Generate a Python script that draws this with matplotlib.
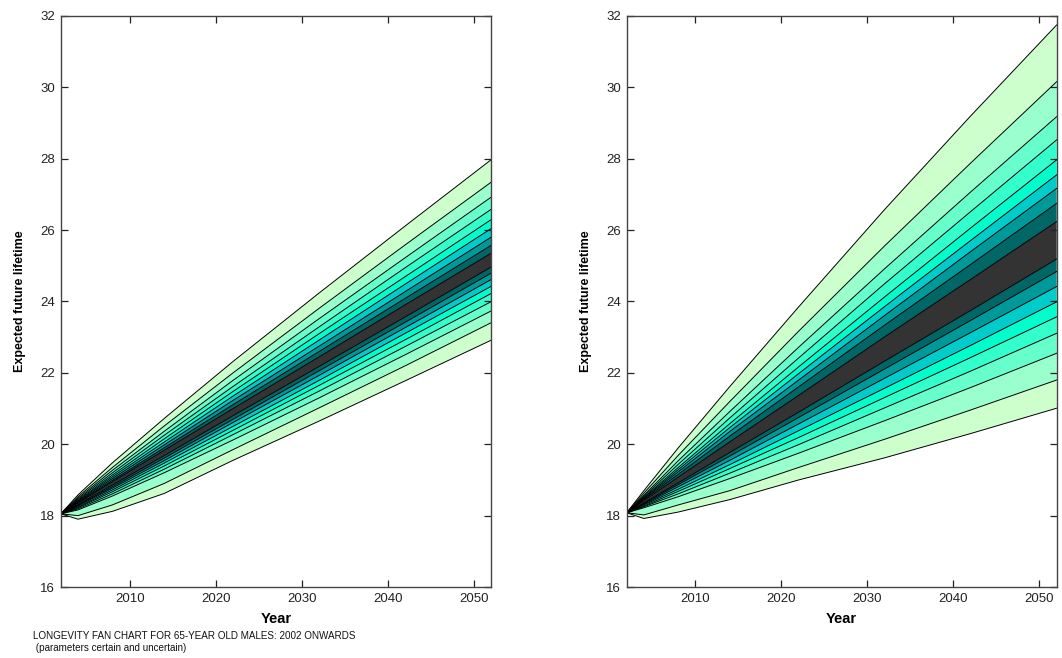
import matplotlib
matplotlib.use("Agg")
import matplotlib.pyplot as plt

plt.rcParams['font.family'] = ['Liberation Sans', 'DejaVu Sans']

# ---- data -------------------------------------------------------------
years = [2002, 2004, 2008, 2014, 2022, 2032, 2042, 2052]
levels = [5, 10, 15, 20, 25, 30, 35, 40, 45, 55, 60, 65, 70, 75, 80, 85, 90, 95]

# left panel: parameters certain (one row per quantile level)
left_q5  = [18.05, 17.90, 18.12, 18.62, 19.55, 20.65, 21.78, 22.92]
left_q10 = [18.05, 18.00, 18.30, 18.90, 19.85, 21.02, 22.20, 23.41]
left_q15 = [18.05, 18.16, 18.55, 19.20, 20.12, 21.30, 22.51, 23.74]
left_q20 = [18.05, 18.19, 18.61, 19.30, 20.27, 21.49, 22.74, 24.00]
left_q25 = [18.05, 18.22, 18.67, 19.39, 20.39, 21.65, 22.93, 24.23]
left_q30 = [18.05, 18.24, 18.72, 19.47, 20.50, 21.79, 23.11, 24.43]
left_q35 = [18.05, 18.27, 18.77, 19.54, 20.61, 21.93, 23.27, 24.62]
left_q40 = [18.05, 18.29, 18.81, 19.61, 20.70, 22.06, 23.42, 24.80]
left_q45 = [18.05, 18.31, 18.86, 19.68, 20.80, 22.18, 23.57, 24.97]
left_q55 = [18.05, 18.35, 18.95, 19.83, 21.00, 22.45, 23.91, 25.36]
left_q60 = [18.05, 18.37, 18.99, 19.90, 21.11, 22.60, 24.09, 25.58]
left_q65 = [18.05, 18.39, 19.04, 19.98, 21.23, 22.75, 24.28, 25.81]
left_q70 = [18.05, 18.41, 19.09, 20.06, 21.35, 22.92, 24.49, 26.05]
left_q75 = [18.05, 18.43, 19.14, 20.15, 21.48, 23.10, 24.70, 26.30]
left_q80 = [18.05, 18.46, 19.20, 20.25, 21.62, 23.29, 24.95, 26.59]
left_q85 = [18.05, 18.49, 19.27, 20.36, 21.79, 23.52, 25.23, 26.93]
left_q90 = [18.05, 18.53, 19.35, 20.51, 22.00, 23.81, 25.59, 27.35]
left_q95 = [18.05, 18.58, 19.48, 20.72, 22.32, 24.24, 26.12, 27.98]

# right panel: parameters uncertain
right_q5  = [18.08, 17.92, 18.10, 18.45, 19.00, 19.62, 20.30, 21.01]
right_q10 = [18.08, 18.02, 18.30, 18.70, 19.35, 20.14, 20.96, 21.80]
right_q15 = [18.08, 18.22, 18.53, 19.04, 19.75, 20.66, 21.59, 22.55]
right_q20 = [18.08, 18.25, 18.61, 19.19, 19.99, 21.02, 22.05, 23.11]
right_q25 = [18.08, 18.27, 18.68, 19.32, 20.19, 21.31, 22.43, 23.57]
right_q30 = [18.08, 18.30, 18.74, 19.43, 20.38, 21.57, 22.77, 23.99]
right_q35 = [18.08, 18.32, 18.81, 19.55, 20.57, 21.85, 23.13, 24.42]
right_q40 = [18.08, 18.34, 18.87, 19.67, 20.75, 22.11, 23.47, 24.84]
right_q45 = [18.08, 18.36, 18.92, 19.77, 20.90, 22.33, 23.75, 25.19]
right_q55 = [18.08, 18.42, 19.08, 20.07, 21.37, 23.01, 24.62, 26.24]
right_q60 = [18.08, 18.45, 19.16, 20.23, 21.61, 23.34, 25.04, 26.75]
right_q65 = [18.08, 18.47, 19.23, 20.36, 21.80, 23.61, 25.40, 27.17]
right_q70 = [18.08, 18.49, 19.29, 20.47, 21.98, 23.86, 25.71, 27.55]
right_q75 = [18.08, 18.51, 19.35, 20.58, 22.17, 24.13, 26.06, 27.97]
right_q80 = [18.08, 18.54, 19.44, 20.74, 22.42, 24.50, 26.52, 28.53]
right_q85 = [18.08, 18.57, 19.54, 20.92, 22.72, 24.92, 27.07, 29.18]
right_q90 = [18.08, 18.63, 19.69, 21.20, 23.17, 25.56, 27.88, 30.16]
right_q95 = [18.08, 18.70, 19.90, 21.62, 23.85, 26.58, 29.20, 31.75]

x_ticks = [2010, 2020, 2030, 2040, 2050]
y_ticks = [16, 18, 20, 22, 24, 26, 28, 30, 32]
x_label = "Year"
y_label = "Expected future lifetime"
caption = "LONGEVITY FAN CHART FOR 65-YEAR OLD MALES: 2002 ONWARDS\n (parameters certain and uncertain)"

# ---- style ------------------------------------------------------------
band_colors = ['#ccffcc', '#99ffcc', '#66ffcc', '#33ffcc',
               '#00ffcc', '#00cccc', '#009999', '#006666']
center_color = '#333333'
spine_color = '#444444'

left_lines = [left_q5, left_q10, left_q15, left_q20, left_q25, left_q30, left_q35,
              left_q40, left_q45, left_q55, left_q60, left_q65, left_q70, left_q75,
              left_q80, left_q85, left_q90, left_q95]
right_lines = [right_q5, right_q10, right_q15, right_q20, right_q25, right_q30, right_q35,
               right_q40, right_q45, right_q55, right_q60, right_q65, right_q70, right_q75,
               right_q80, right_q85, right_q90, right_q95]

fig = plt.figure(figsize=(10.62, 6.58), dpi=100)
ax_l = fig.add_axes([0.0572, 0.1079, 0.4056, 0.8678])
ax_r = fig.add_axes([0.5901, 0.1079, 0.4049, 0.8678])


def draw_fan(ax, lines):
    n = len(lines)
    half = n // 2  # 9
    for i in range(n - 1):
        if i < half - 1:
            c = band_colors[i]
        elif i == half - 1:
            c = center_color
        else:
            c = band_colors[n - 2 - i]
        ax.fill_between(years, lines[i], lines[i + 1], facecolor=c,
                        edgecolor='none', linewidth=0, zorder=1)
    for ln in lines:
        ax.plot(years, ln, color='black', linewidth=0.7, zorder=2)
    ax.set_xlim(2002, 2052)
    ax.set_ylim(16, 32)
    ax.set_xticks(x_ticks)
    ax.set_yticks(y_ticks)
    ax.tick_params(direction='in', length=5, width=0.9, top=True, right=True,
                   labelsize=9.5, colors='#222222', pad=4)
    for sp in ax.spines.values():
        sp.set_color(spine_color)
        sp.set_linewidth(1.0)
    ax.set_xlabel(x_label, fontsize=10.5, fontweight='bold', labelpad=5)
    ax.set_ylabel(y_label, fontsize=9, fontweight='bold', labelpad=10)


draw_fan(ax_l, left_lines)
draw_fan(ax_r, right_lines)

fig.text(0.031, 0.008, caption, fontsize=7.1, ha='left', va='bottom',
         linespacing=1.2, color='#111111')

fig.savefig('out.png', dpi=100)
